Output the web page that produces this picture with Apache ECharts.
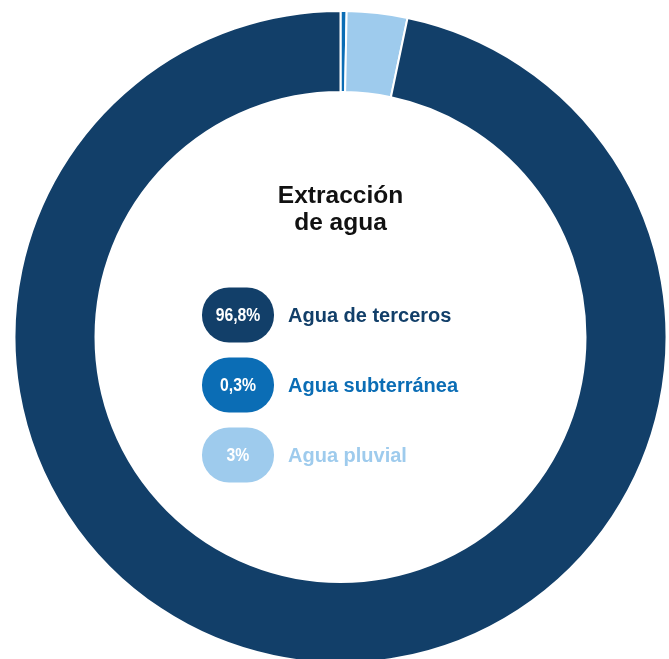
<!DOCTYPE html>
<html>
<head>
<meta charset="utf-8">
<script src="https://cdn.jsdelivr.net/npm/echarts@6/dist/echarts.min.js"></script>
<style>
html,body{margin:0;padding:0;background:#fff;}
#chart{width:669px;height:659px;}
</style>
</head>
<body>
<div id="chart"></div>
<script>
// Data
const categories = ['Agua de terceros', 'Agua subterránea', 'Agua pluvial'];
const values = [96.8, 0.3, 3];
const valueLabels = ['96,8%', '0,3%', '3%'];
const colors = ['#123f69', '#0b6db5', '#9ecbed'];
const title = 'Extracción\nde agua';
// drawing order around the ring (clockwise from 12 o'clock)
const ringOrder = [1, 2, 0];

const chart = echarts.init(document.getElementById('chart'), null, {renderer: 'canvas'});

const pieData = ringOrder.map(i => ({
  name: categories[i],
  value: values[i],
  itemStyle: {color: colors[i]}
}));

const graphics = [{
  type: 'text',
  z: 10,
  x: 340.5,
  y: 183,
  style: {
    text: title,
    fill: '#111111',
    font: 'bold 24.5px "Liberation Sans", Arial, sans-serif',
    textAlign: 'center',
    textVerticalAlign: 'top',
    lineHeight: 27
  }
}];

categories.forEach((c, i) => {
  const cy = 315 + i * 70;
  graphics.push({
    type: 'rect',
    z: 10,
    shape: {x: 202, y: cy - 27.5, width: 72, height: 55, r: 27},
    style: {fill: colors[i]}
  });
  graphics.push({
    type: 'text',
    z: 11,
    x: 238,
    y: cy + 1,
    scaleX: 0.83,
    style: {
      text: valueLabels[i],
      fill: '#ffffff',
      font: 'bold 19px "Liberation Sans", Arial, sans-serif',
      textAlign: 'center',
      textVerticalAlign: 'middle'
    }
  });
  graphics.push({
    type: 'text',
    z: 11,
    x: 288,
    y: cy + 1,
    style: {
      text: c,
      fill: colors[i],
      font: 'bold 20px "Liberation Sans", Arial, sans-serif',
      textAlign: 'left',
      textVerticalAlign: 'middle'
    }
  });
});

chart.setOption({
  animation: false,
  backgroundColor: '#ffffff',
  series: [{
    type: 'pie',
    center: [340.5, 337],
    radius: [245, 326],
    startAngle: 90,
    clockwise: true,
    avoidLabelOverlap: false,
    label: {show: false},
    labelLine: {show: false},
    emphasis: {disabled: true},
    itemStyle: {borderColor: '#ffffff', borderWidth: 2},
    data: pieData
  }],
  graphic: graphics
});
</script>
</body>
</html>
